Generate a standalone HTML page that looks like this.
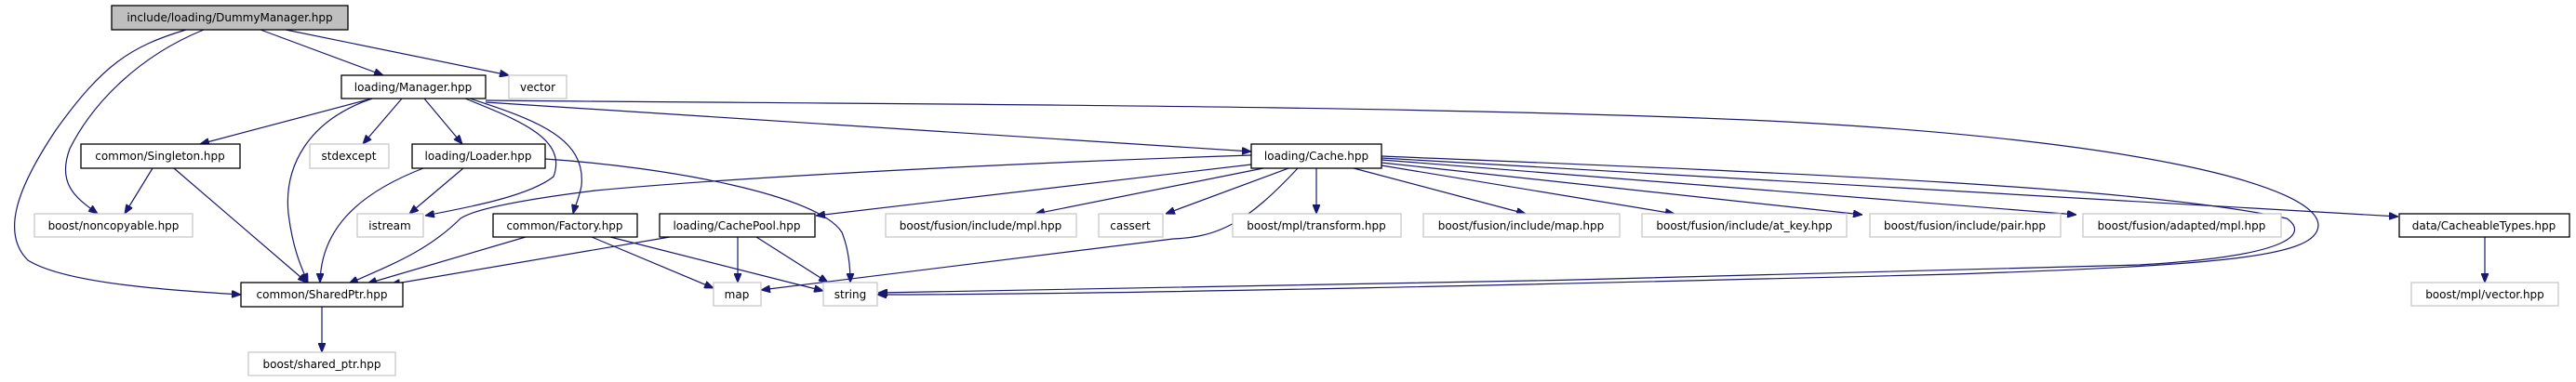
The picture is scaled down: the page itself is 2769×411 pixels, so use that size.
<!DOCTYPE html>
<html><head><meta charset="utf-8"><style>
html,body{margin:0;padding:0;background:#fff;}
svg{display:block;}
text{font-family:"DejaVu Sans","Liberation Sans",sans-serif;font-size:12px;fill:#000;text-anchor:middle;}
.d{fill:#fff;stroke:#000;stroke-width:1.3;}
.e{fill:#fff;stroke:#c8c8c8;stroke-width:1.3;}
.l{fill:none;stroke:#191970;stroke-width:1.2;}
</style></head><body>
<svg width="2769" height="411" viewBox="0 0 2769 411" xmlns="http://www.w3.org/2000/svg">
<defs><marker id="a" markerWidth="10" markerHeight="8" refX="10" refY="4" orient="auto" markerUnits="userSpaceOnUse"><path d="M0,0 L10,4 L0,8 Z" fill="#191970" stroke="#191970"/></marker></defs>
<g class="l" marker-end="url(#a)">
<path d="M200,32 C140,50 110,70 60,140 C20,200 0,250 30,280 C70,305 180,312 259,317"/>
<path d="M219,32 C150,60 100,110 75,160 C60,200 85,215 105,230"/>
<path d="M280,32 L412,81"/>
<path d="M307,32 L547,81"/>
<path d="M400,106 L215,155"/>
<path d="M400,106 C330,130 305,180 310,230 C315,270 325,290 331,304"/>
<path d="M432,106 L390,155"/>
<path d="M456,106 L497,155"/>
<path d="M500,106 C560,130 610,150 595,190 C570,210 510,222 457,232"/>
<path d="M505,106 C580,130 630,150 625,200 C622,215 618,222 616,230"/>
<path d="M522,110 L1345,163"/>
<path d="M522,108 C900,112 1500,112 1900,130 C2300,150 2490,200 2492,242 C2492,275 2400,285 2100,295 C1700,305 1200,317 943,317"/>
<path d="M455,181 C380,210 345,250 344,304"/>
<path d="M498,181 L440,230"/>
<path d="M586,171 C720,180 880,210 905,250 C913,270 914,290 914,304"/>
<path d="M164,181 L134,230"/>
<path d="M187,181 L330,304"/>
<path d="M1345,167 C1100,175 800,190 640,205 C560,215 510,225 495,235 C460,270 420,285 375,305"/>
<path d="M1345,177 L877,232"/>
<path d="M1358,181 L1113,230"/>
<path d="M1385,181 L1253,230"/>
<path d="M1395,181 C1340,240 1310,255 1261,257 C1150,270 1000,290 818,312"/>
<path d="M1415,181 L1415,230"/>
<path d="M1455,181 L1640,230"/>
<path d="M1485,178 L1800,230"/>
<path d="M1485,175 L2002,231"/>
<path d="M1485,172 L2232,231"/>
<path d="M1485,170 L2578,233"/>
<path d="M1485,168 C1900,185 2300,200 2458,235 C2480,250 2470,275 2300,285 C1900,298 1300,310 944,315"/>
<path d="M565,255 L395,305"/>
<path d="M636,255 L767,310"/>
<path d="M656,255 L885,313"/>
<path d="M720,255 L420,306"/>
<path d="M793,255 L793,304"/>
<path d="M813,255 L890,304"/>
<path d="M346,330 L346,379"/>
<path d="M2671,255 L2671,304"/>
</g>
<rect x="120" y="6" width="254" height="26" fill="#bfbfbf" stroke="#000" stroke-width="1.3"/><text x="247" y="23">include/loading/DummyManager.hpp</text>
<rect class="d" x="367" y="81" width="155" height="25"/><text x="444" y="98">loading/Manager.hpp</text>
<rect class="e" x="547" y="81" width="62" height="25"/><text x="578" y="98">vector</text>
<rect class="d" x="87" y="155" width="171" height="26"/><text x="172" y="172">common/Singleton.hpp</text>
<rect class="e" x="333" y="155" width="85" height="26"/><text x="375" y="172">stdexcept</text>
<rect class="d" x="443" y="155" width="143" height="26"/><text x="514" y="172">loading/Loader.hpp</text>
<rect class="d" x="1345" y="155" width="140" height="26"/><text x="1415" y="172">loading/Cache.hpp</text>
<rect class="e" x="37" y="230" width="170" height="25"/><text x="122" y="247">boost/noncopyable.hpp</text>
<rect class="e" x="384" y="230" width="71" height="25"/><text x="419" y="247">istream</text>
<rect class="d" x="530" y="230" width="155" height="25"/><text x="607" y="247">common/Factory.hpp</text>
<rect class="d" x="709" y="230" width="167" height="25"/><text x="792" y="247">loading/CachePool.hpp</text>
<rect class="e" x="952" y="230" width="205" height="25"/><text x="1054" y="247">boost/fusion/include/mpl.hpp</text>
<rect class="e" x="1181" y="230" width="69" height="25"/><text x="1215" y="247">cassert</text>
<rect class="e" x="1325" y="230" width="181" height="25"/><text x="1415" y="247">boost/mpl/transform.hpp</text>
<rect class="e" x="1530" y="230" width="211" height="25"/><text x="1635" y="247">boost/fusion/include/map.hpp</text>
<rect class="e" x="1765" y="230" width="220" height="25"/><text x="1875" y="247">boost/fusion/include/at_key.hpp</text>
<rect class="e" x="2010" y="230" width="205" height="25"/><text x="2112" y="247">boost/fusion/include/pair.hpp</text>
<rect class="e" x="2239" y="230" width="213" height="25"/><text x="2345" y="247">boost/fusion/adapted/mpl.hpp</text>
<rect class="d" x="2579" y="230" width="183" height="25"/><text x="2670" y="247">data/CacheableTypes.hpp</text>
<rect class="d" x="259" y="304" width="174" height="26"/><text x="346" y="321">common/SharedPtr.hpp</text>
<rect class="e" x="767" y="304" width="51" height="25"/><text x="792" y="321">map</text>
<rect class="e" x="885" y="304" width="58" height="25"/><text x="914" y="321">string</text>
<rect class="e" x="2592" y="304" width="158" height="25"/><text x="2671" y="321">boost/mpl/vector.hpp</text>
<rect class="e" x="267" y="379" width="158" height="25"/><text x="346" y="396">boost/shared_ptr.hpp</text>
</svg>
</body></html>
